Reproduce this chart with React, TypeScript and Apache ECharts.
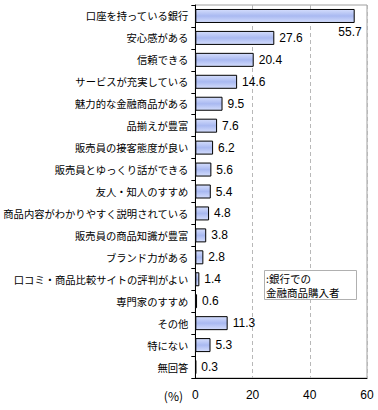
import React, { useEffect, useRef } from "react";
import * as echarts from "echarts";

const categories = [
  "口座を持っている銀行",
  "安心感がある",
  "信頼できる",
  "サービスが充実している",
  "魅力的な金融商品がある",
  "品揃えが豊富",
  "販売員の接客態度が良い",
  "販売員とゆっくり話ができる",
  "友人・知人のすすめ",
  "商品内容がわかりやすく説明されている",
  "販売員の商品知識が豊富",
  "ブランド力がある",
  "口コミ・商品比較サイトの評判がよい",
  "専門家のすすめ",
  "その他",
  "特にない",
  "無回答",
];
const values = [55.7, 27.6, 20.4, 14.6, 9.5, 7.6, 6.2, 5.6, 5.4, 4.8, 3.8, 2.8, 1.4, 0.6, 11.3, 5.3, 0.3];
const xTicks = [0, 20, 40, 60];
const legendLines = [":銀行での", "金融商品購入者"];
const unitLabel = "(%)";

const FONT = "'Noto Sans CJK JP', sans-serif";
const NUMFONT = "'Liberation Sans', Arial, sans-serif";

export default function App() {
  const ref = useRef<HTMLDivElement>(null);
  useEffect(() => {
    if (!ref.current) return;
    const chart = echarts.init(ref.current, null, { renderer: "svg" });
    const barColor = new echarts.graphic.LinearGradient(0, 0, 0, 1, [
      { offset: 0, color: "#d4ddfc" },
      { offset: 0.5, color: "#a9b9f1" },
      { offset: 1, color: "#d4ddfc" },
    ]);
    chart.setOption({
      animation: false,
      backgroundColor: "#ffffff",
      grid: {
        left: 192,
        right: 11,
        top: 5,
        bottom: 32,
        show: true,
        borderColor: "#a0a0a0",
        borderWidth: 1,
        backgroundColor: "transparent",
      },
      xAxis: {
        type: "value",
        min: xTicks[0],
        max: xTicks[xTicks.length - 1],
        interval: 20,
        axisLine: { show: true, lineStyle: { color: "#000", width: 1 } },
        axisTick: { show: false },
        axisLabel: { color: "#000", fontSize: 12, fontFamily: NUMFONT, margin: 11 },
        splitLine: {
          show: true,
          lineStyle: { color: "#b8b8b8", type: [4, 3], width: 1 },
        },
      },
      yAxis: {
        type: "category",
        data: categories,
        inverse: true,
        axisLine: { show: true, lineStyle: { color: "#000", width: 1 } },
        axisTick: { show: true, length: 4, lineStyle: { color: "#000" } },
        axisLabel: { color: "#000", fontSize: 10.3, fontFamily: FONT, margin: 7 },
        splitLine: { show: false },
      },
      series: [
        {
          type: "bar",
          data: values.map((v, i) =>
            i === 0
              ? {
                  value: v,
                  label: { position: "insideBottomRight", offset: [12, 20] },
                }
              : v
          ),
          barWidth: 14,
          itemStyle: { color: barColor, borderColor: "#000", borderWidth: 1 },
          label: {
            show: true,
            position: "right",
            distance: 5,
            color: "#000",
            fontSize: 12,
            fontFamily: NUMFONT,
            formatter: (p: any) => p.value.toFixed(1),
          },
        },
      ],
      graphic: [
        {
          type: "rect",
          shape: { x: 264.5, y: 270.5, width: 92, height: 29 },
          style: { fill: "#fff", stroke: "#b0b0b0", lineWidth: 1 },
          z: 10,
        },
        {
          type: "text",
          x: 266,
          y: 278,
          z: 11,
          style: {
            text: legendLines[0],
            fontSize: 10.5,
            fontFamily: FONT,
            fill: "#000",
            verticalAlign: "middle",
          },
        },
        {
          type: "text",
          x: 266,
          y: 292,
          z: 11,
          style: {
            text: legendLines[1],
            fontSize: 10.5,
            fontFamily: FONT,
            fill: "#000",
            verticalAlign: "middle",
          },
        },
        {
          type: "text",
          x: 183,
          y: 395,
          style: {
            text: unitLabel,
            fontSize: 12,
            fontFamily: FONT,
            fill: "#000",
            align: "right",
            verticalAlign: "middle",
          },
        },
      ],
    });
    return () => chart.dispose();
  }, []);
  return <div ref={ref} style={{ width: 378, height: 410, position: "absolute", left: 0, top: 0 }} />;
}
